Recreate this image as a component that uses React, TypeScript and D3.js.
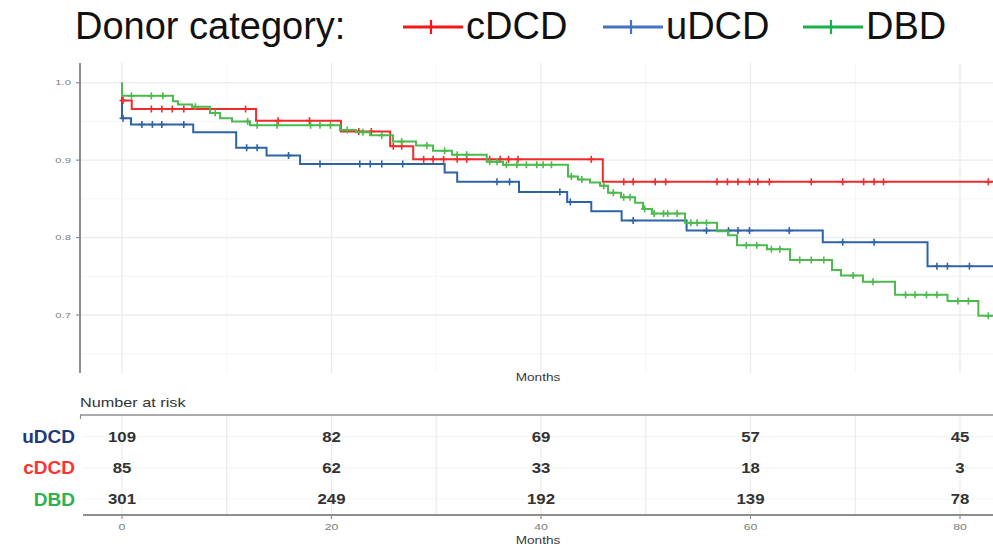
import React from 'react';
import * as d3 from 'd3';

// Kaplan–Meier step data (months, survival after each event) and censoring times
const CDCD_STEP_MONTHS = [0, 0.93, 12.8, 20.9, 25.6, 27.8, 45.9];
const CDCD_STEP_SURV = [0.977, 0.966, 0.951, 0.937, 0.918, 0.901, 0.872];
const CDCD_CENSORED = [0.1, 2.8, 3.8, 4.8, 5.9, 11.8, 14.9, 17.9, 22.6, 23.8, 25.9, 26.7, 28.8, 29.7, 30.7, 32.0, 32.9, 35.1, 36.1, 36.9, 37.8, 44.8, 47.9, 48.8, 50.9, 51.9, 56.8, 57.8, 58.8, 59.9, 60.7, 61.8, 65.8, 68.8, 70.8, 71.8, 72.7, 82.7];

const UDCD_STEP_MONTHS = [0, 0.86, 6.8, 10.9, 13.8, 17.0, 30.8, 32.0, 37.9, 42.5, 44.8, 47.7, 53.9, 66.9, 76.9];
const UDCD_STEP_SURV = [0.954, 0.946, 0.936, 0.916, 0.906, 0.895, 0.884, 0.872, 0.859, 0.846, 0.834, 0.822, 0.809, 0.794, 0.763];
const UDCD_CENSORED = [0.1, 1.9, 2.9, 3.8, 5.9, 11.9, 12.9, 15.9, 18.9, 22.7, 23.7, 24.8, 26.8, 35.8, 37.0, 41.8, 42.8, 48.8, 55.8, 57.9, 58.8, 59.9, 63.7, 68.8, 71.8, 77.8, 78.8, 80.9];

const DBD_STEP_MONTHS = [0, 4.87, 5.35, 6.68, 8.4, 9.36, 10.5, 12.22, 20.81, 22.34, 23.68, 25.87, 28.07, 29.69, 31.5, 34.82, 36.37, 42.58, 43.53, 44.68, 45.63, 46.4, 47.64, 48.98, 49.74, 50.6, 53.75, 56.8, 57.85, 58.71, 61.57, 63.77, 67.78, 68.64, 70.74, 73.8, 78.81, 81.75];
const DBD_STEP_SURV = [0.983, 0.976, 0.972, 0.969, 0.961, 0.954, 0.95, 0.945, 0.939, 0.936, 0.932, 0.924, 0.919, 0.912, 0.907, 0.898, 0.894, 0.879, 0.875, 0.871, 0.867, 0.858, 0.852, 0.845, 0.837, 0.831, 0.819, 0.808, 0.803, 0.79, 0.785, 0.771, 0.758, 0.751, 0.743, 0.726, 0.718, 0.699];
const DBD_CENSORED = [0.9, 2.8, 3.9, 7.0, 8.9, 12.0, 12.9, 14.8, 18.0, 18.9, 19.9, 21.5, 23.0, 24.8, 26.7, 29.1, 30.8, 32.0, 32.9, 35.1, 35.8, 36.7, 37.7, 38.6, 39.6, 40.2, 41.0, 42.9, 43.9, 46.0, 46.9, 47.9, 48.5, 49.9, 50.8, 51.7, 52.1, 53.0, 54.3, 54.9, 55.8, 59.6, 60.6, 62.0, 62.8, 64.7, 65.8, 67.0, 69.8, 71.7, 74.8, 75.7, 76.8, 77.8, 79.8, 80.8, 82.7];

// Legend order and risk table
const LEGEND_GROUPS = ['cDCD', 'uDCD', 'DBD'];
const RISK_GROUPS = ['uDCD', 'cDCD', 'DBD'];
const RISK_MONTHS = [0, 20, 40, 60, 80];
const RISK_UDCD = [109, 82, 69, 57, 45];
const RISK_CDCD = [85, 62, 33, 18, 3];
const RISK_DBD = [301, 249, 192, 139, 78];

const SURV_TICKS = [0.7, 0.8, 0.9, 1.0];
const SURV_MINOR = [0.65, 0.75, 0.85, 0.95];
const MONTH_TICKS = [0, 20, 40, 60, 80];
const MONTH_MINOR = [10, 30, 50, 70];

const LINE_COLORS: Record<string, string> = { cDCD: '#ef2b2b', uDCD: '#2f63a8', DBD: '#4cba4c' };
const KEY_COLORS: Record<string, string> = { cDCD: '#f4161b', uDCD: '#4472c4', DBD: '#18b14c' };
const LABEL_COLORS: Record<string, string> = { uDCD: '#1d3a7a', cDCD: '#ff3232', DBD: '#2cb24c' };

const FONT = 'Arial, "Liberation Sans", Helvetica, sans-serif';

type Series = { name: string; months: number[]; surv: number[]; censored: number[] };

const SERIES: Series[] = [
  { name: 'uDCD', months: UDCD_STEP_MONTHS, surv: UDCD_STEP_SURV, censored: UDCD_CENSORED },
  { name: 'cDCD', months: CDCD_STEP_MONTHS, surv: CDCD_STEP_SURV, censored: CDCD_CENSORED },
  { name: 'DBD', months: DBD_STEP_MONTHS, surv: DBD_STEP_SURV, censored: DBD_CENSORED },
];

const RISK_ROWS: Record<string, number[]> = { uDCD: RISK_UDCD, cDCD: RISK_CDCD, DBD: RISK_DBD };

function survivalAt(s: Series, t: number) {
  let v = 1;
  for (let i = 0; i < s.months.length; i++) {
    if (s.months[i] <= t) v = s.surv[i];
  }
  return v;
}

// Text that is widened horizontally like the rest of the exported figure
function Wide(props: {
  x: number; y: number; k?: number; size: number; fill?: string; weight?: string;
  anchor?: 'start' | 'middle' | 'end'; children: React.ReactNode;
}) {
  const { x, y, k = 1.3, size, fill = '#333', weight = 'normal', anchor = 'start', children } = props;
  return (
    <text
      transform={`translate(${x},${y}) scale(${k},1)`}
      fontSize={size}
      fontFamily={FONT}
      fill={fill}
      fontWeight={weight}
      textAnchor={anchor}
      dominantBaseline="central"
    >
      {children}
    </text>
  );
}

export default function App() {
  const W = 993;
  const H = 551;

  const x = d3.scaleLinear().domain([0, 80]).range([122, 960]);
  const y = d3.scaleLinear().domain([0.7, 1.0]).range([315, 82.7]);

  const panelLeft = 80;
  const panelTop = 63;
  const panelBottom = 373;

  const tableTop = 415;
  const tableBottom = 515;
  const rowY = d3.scalePoint<string>().domain(RISK_GROUPS).range([436.7, 499]);

  const line = d3
    .line<[number, number]>()
    .x((d) => x(d[0]))
    .y((d) => y(d[1]))
    .curve(d3.curveStepAfter);

  const pathFor = (s: Series) => {
    const pts: [number, number][] = [[0, 1]];
    s.months.forEach((m, i) => pts.push([m, s.surv[i]]));
    pts.push([86, s.surv[s.surv.length - 1]]);
    return line(pts) || '';
  };

  const gridMajor = '#ebebeb';
  const gridMinor = '#f5f5f5';
  const axisGrey = '#8e8e8e';

  // legend geometry
  const keyStarts = [403, 603, 803];

  return (
    <div style={{ position: 'absolute', left: 0, top: 0 }}>
      <svg width={W} height={H} style={{ display: 'block', background: '#fff' }}>
        {/* legend */}
        <text x={75} y={39} fontSize={38} fontFamily={FONT} fill="#111">
          Donor category:
        </text>
        {LEGEND_GROUPS.map((g, i) => {
          const x0 = keyStarts[i];
          return (
            <g key={g}>
              <line x1={x0} x2={x0 + 60} y1={27} y2={27} stroke={KEY_COLORS[g]} strokeWidth={3} />
              <line x1={x0 + 28} x2={x0 + 28} y1={20} y2={34} stroke={KEY_COLORS[g]} strokeWidth={2.2} />
              <text x={x0 + 63} y={39} fontSize={38} fontFamily={FONT} fill="#111">
                {g}
              </text>
            </g>
          );
        })}

        {/* survival panel grid */}
        <g>
          {SURV_MINOR.map((v) => (
            <line key={'ym' + v} x1={panelLeft} x2={W} y1={y(v)} y2={y(v)} stroke={gridMinor} strokeWidth={1} />
          ))}
          {MONTH_MINOR.map((m) => (
            <line key={'xm' + m} x1={x(m)} x2={x(m)} y1={panelTop} y2={panelBottom} stroke={gridMinor} strokeWidth={1} />
          ))}
          {SURV_TICKS.map((v) => (
            <line key={'yM' + v} x1={panelLeft} x2={W} y1={y(v)} y2={y(v)} stroke={gridMajor} strokeWidth={1.3} />
          ))}
          {MONTH_TICKS.map((m) => (
            <line key={'xM' + m} x1={x(m)} x2={x(m)} y1={panelTop} y2={panelBottom} stroke={gridMajor} strokeWidth={1.3} />
          ))}
        </g>

        {/* y axis */}
        <line x1={panelLeft} x2={panelLeft} y1={panelTop} y2={panelBottom} stroke={axisGrey} strokeWidth={2} />
        {SURV_TICKS.map((v) => (
          <g key={'yt' + v}>
            <line x1={panelLeft - 4} x2={panelLeft} y1={y(v)} y2={y(v)} stroke={axisGrey} strokeWidth={1.2} />
            <Wide x={71} y={y(v)} k={1.5} size={7.5} fill="#7d7d7d" anchor="end">
              {d3.format('.1f')(v)}
            </Wide>
          </g>
        ))}
        <Wide x={538} y={378} k={1.3} size={10.5} fill="#3a3a3a" anchor="middle">
          Months
        </Wide>

        {/* survival curves */}
        {SERIES.map((s) => (
          <g key={s.name}>
            <path d={pathFor(s)} fill="none" stroke={LINE_COLORS[s.name]} strokeWidth={2} />
            {s.censored.map((t, i) => {
              const cx = x(t);
              const cy = y(survivalAt(s, t));
              return (
                <g key={i} stroke={LINE_COLORS[s.name]} strokeWidth={1.6}>
                  <line x1={cx - 3.5} x2={cx + 3.5} y1={cy} y2={cy} />
                  <line x1={cx} x2={cx} y1={cy - 3.5} y2={cy + 3.5} />
                </g>
              );
            })}
          </g>
        ))}

        {/* number-at-risk table */}
        <Wide x={80} y={403} k={1.3} size={12.5} fill="#333">
          Number at risk
        </Wide>
        {RISK_GROUPS.map((g) => (
          <line key={'rg' + g} x1={83} x2={W} y1={rowY(g)!} y2={rowY(g)!} stroke={gridMinor} strokeWidth={1.2} />
        ))}
        {[...MONTH_TICKS, ...MONTH_MINOR].map((m) => (
          <line key={'tg' + m} x1={x(m)} x2={x(m)} y1={tableTop} y2={tableBottom} stroke={gridMajor} strokeWidth={1.2} />
        ))}
        <line x1={80} x2={W} y1={tableTop} y2={tableTop} stroke={axisGrey} strokeWidth={1.6} />
        <line x1={80.5} x2={80.5} y1={tableTop} y2={tableTop + 4} stroke={axisGrey} strokeWidth={1.2} />
        <line x1={83} x2={W} y1={tableBottom} y2={tableBottom} stroke={axisGrey} strokeWidth={2} />
        {MONTH_TICKS.map((m) => (
          <g key={'bt' + m}>
            <line x1={x(m)} x2={x(m)} y1={tableBottom} y2={tableBottom + 4} stroke={axisGrey} strokeWidth={1.2} />
            <Wide x={x(m)} y={527} k={1.3} size={9.5} fill="#7d7d7d" anchor="middle">
              {m}
            </Wide>
          </g>
        ))}
        <Wide x={538} y={541} k={1.3} size={10.5} fill="#3a3a3a" anchor="middle">
          Months
        </Wide>

        {RISK_GROUPS.map((g) => (
          <g key={'row' + g}>
            <text
              x={75}
              y={rowY(g)!}
              fontSize={19}
              fontWeight="bold"
              fontFamily={FONT}
              fill={LABEL_COLORS[g]}
              textAnchor="end"
              dominantBaseline="central"
            >
              {g}
            </text>
            {RISK_ROWS[g].map((n, i) => (
              <Wide key={i} x={x(RISK_MONTHS[i])} y={rowY(g)!} k={1.2} size={14} weight="bold" fill="#333" anchor="middle">
                {n}
              </Wide>
            ))}
          </g>
        ))}
      </svg>
    </div>
  );
}
